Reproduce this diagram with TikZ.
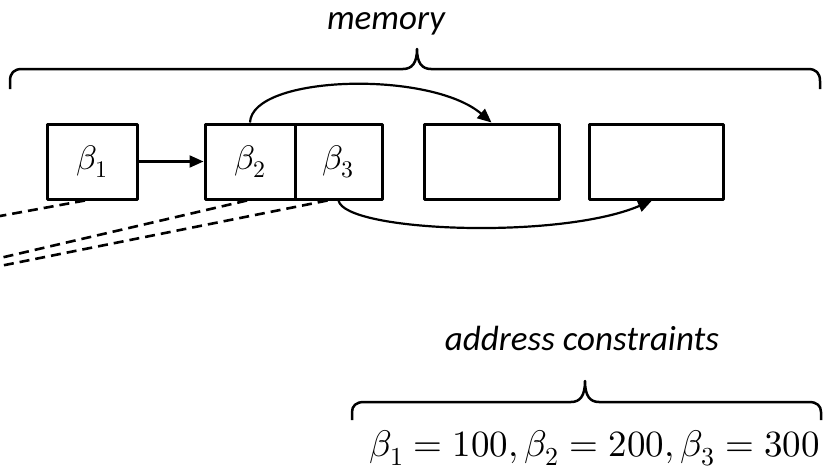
\documentclass[tikz,border=0pt]{standalone}
\usepackage{fontspec}
\usepackage{unicode-math}
\setmainfont{Carlito}
\setmathfont{Latin Modern Math}
\usetikzlibrary{arrows.meta}
\begin{document}
\begin{tikzpicture}[x=1pt,y=-1pt,line join=round,
  cell/.style={draw,line width=3pt,minimum height=75pt,inner sep=0pt,font=\fontsize{34}{38}\selectfont},
  arr/.style={line width=2.2pt,-{Triangle[length=14pt,width=12pt]}},
  dashline/.style={line width=2.6pt,dash pattern=on 10pt off 6pt},
  brace/.style={line width=2.5pt},
  lab/.style={font=\itshape\fontsize{35}{40}\selectfont,inner sep=0pt}]
\useasboundingbox (0,0) rectangle (823,471);
\node[cell,minimum width=90pt] (b1) at (92,161.5) {$\beta_1$};
\node[cell,minimum width=90pt] (b2) at (250,161.5) {$\beta_2$};
\node[cell,minimum width=87pt] (b3) at (338.5,161.5) {$\beta_3$};
\node[cell,minimum width=135pt] (b4) at (491.5,161.5) {};
\node[cell,minimum width=134pt] (b5) at (656,161.5) {};
\draw[arr] (b1.east) -- (b2.west);
\draw[arr] (b2.north) .. controls (252,75) and (430,70) .. (b4.north);
\draw[arr] (b3.south) .. controls (345,232) and (560,240) .. ([xshift=-4pt]b5.south);
\coordinate (d1) at (0,216);
\coordinate (d2) at (0,258);
\coordinate (d3) at (0,266);
\draw[dashline] ([xshift=-7pt]b1.south) -- (d1);
\draw[dashline] ([xshift=-3pt]b2.south) -- (d2);
\draw[dashline] ([xshift=-11pt]b3.south) -- (d3);
\draw[brace] (10,89) -- (10,81) .. controls (10,73) and (14,69) .. (22,69) -- (403,69)
  .. controls (412,69) and (417,63) .. (417,49) .. controls (417,63) and (422,69) .. (431,69)
  -- (808,69) .. controls (816,69) and (820,73) .. (820,81) -- (820,89);
\draw[brace] (352,420) -- (352,412) .. controls (352,406) and (356,402) .. (364,402) -- (571,402)
  .. controls (580,402) and (585,396) .. (585,381) .. controls (585,396) and (590,402) .. (599,402)
  -- (809,402) .. controls (817,402) and (821,406) .. (821,412) -- (821,420);
\node[lab,anchor=base] (mem) at (386,30) {memory};
\node[lab,anchor=base] (addr) at (582,350) {address constraints};
\node[anchor=base east,inner sep=0pt,font=\fontsize{37}{42}\selectfont] (eq) at (820,456) {$\beta_1=100,\beta_2=200,\beta_3=300$};
\end{tikzpicture}
\end{document}
